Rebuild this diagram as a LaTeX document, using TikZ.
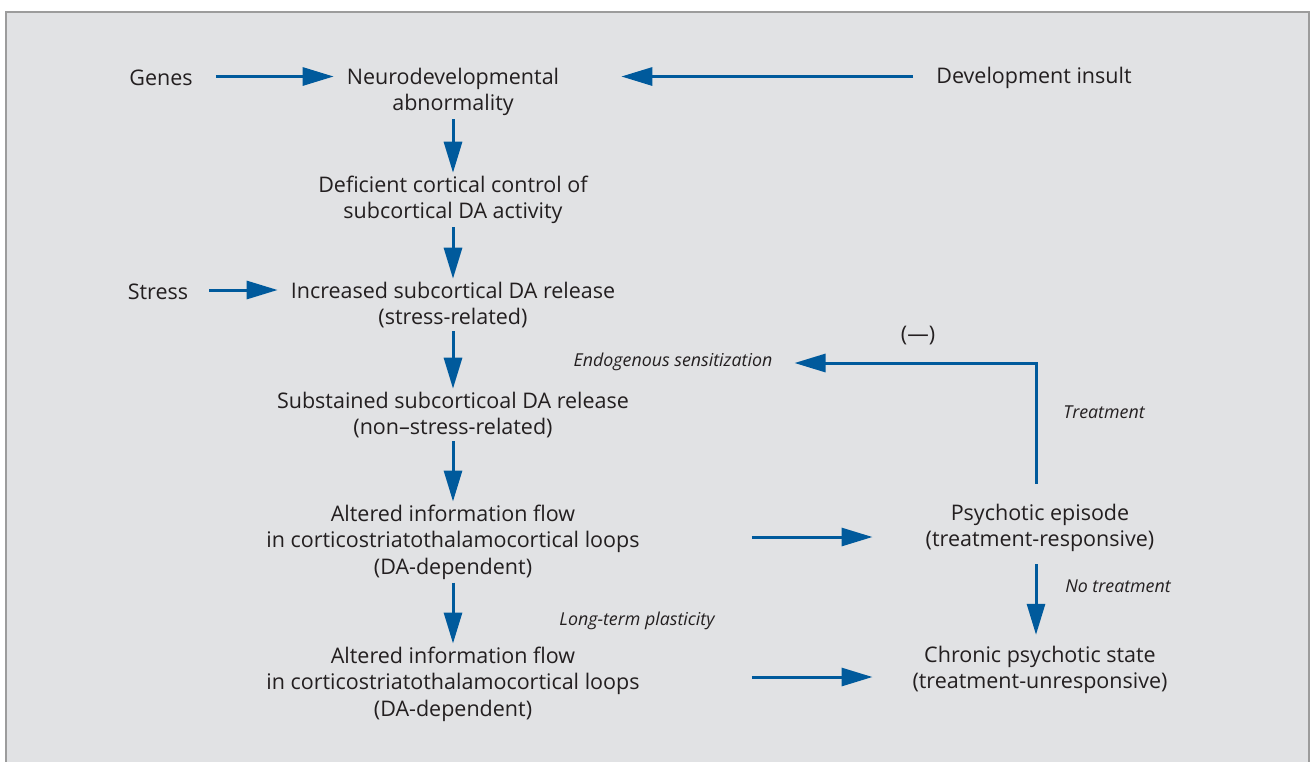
\documentclass[tikz,border=0pt]{standalone}
\usepackage{fontspec}
\setmainfont{Open Sans}
\usetikzlibrary{arrows.meta}
\definecolor{bgc}{HTML}{E1E2E4}
\definecolor{framec}{HTML}{9C9C9C}
\definecolor{arrc}{HTML}{005A9C}
\definecolor{txtc}{HTML}{231F20}
\tikzset{
  txt/.style={align=center, inner sep=3pt, text=txtc, font=\fontsize{21.5}{26.5}\selectfont},
  lbl/.style={inner sep=0pt, text=txtc, font=\fontsize{17.8}{20}\selectfont\itshape},
  arr/.style={draw=arrc, line width=3pt, -{Triangle[length=31pt,width=18pt]}},
}
\begin{document}
\begin{tikzpicture}[x=1pt,y=-1pt]
\useasboundingbox (0,0) rectangle (1313,761);
\clip (0,0) rectangle (1313,761);
\draw[fill=bgc, draw=framec, line width=2.5pt] (6,12) rectangle (1309,790);

\node[txt] (genes) at (161,78) {Genes};
\node[txt] (neuro) at (453,92) {Neurodevelopmental\\abnormality};
\node[txt] (insult) at (1034,78) {Development insult};
\node[txt] (defic) at (453,200) {Deficient cortical control of\\subcortical DA activity};
\node[txt] (stress) at (158,292) {Stress};
\node[txt] (incr) at (453,305) {Increased subcortical DA release\\(stress-related)};
\node[txt] (subst) at (453,415) {Substained subcorticoal DA release\\(non--stress-related)};
\node[txt] (alt1) at (453,542) {Altered information flow\\in corticostriatothalamocortical loops\\(DA-dependent)};
\node[txt] (psych) at (1040,528) {Psychotic episode\\(treatment-responsive)};
\node[txt] (alt2) at (453,684) {Altered information flow\\in corticostriatothalamocortical loops\\(DA-dependent)};
\node[txt] (chron) at (1040,670) {Chronic psychotic state\\(treatment-unresponsive)};

\node[lbl] (endo) at (673,362) {Endogenous sensitization};
\node[txt] (minus) at (918,336) {(---)};
\node[lbl] (treat) at (1104,412) {Treatment};
\node[lbl] (notreat) at (1118,586) {No treatment};
\node[lbl] (ltp) at (637,621) {Long-term plasticity};

\coordinate (fbtop) at (1036,363);

\draw[arr] ([xshift=20pt,yshift=1.5pt]genes.east) -- ([xshift=-10pt,yshift=1.5pt]genes.east -| neuro.west);
\draw[arr] ([xshift=-20pt,yshift=1.5pt]insult.west) -- ([xshift=59pt,yshift=1.5pt]insult.west -| neuro.east);
\draw[arr] (neuro) -- (defic);
\draw[arr] (defic) -- (incr);
\draw[arr] ([xshift=18pt,yshift=2pt]stress.east) -- ([xshift=-10pt,yshift=2pt]stress.east -| incr.west);
\draw[arr] (incr) -- (subst);
\draw[arr] (subst) -- (alt1);
\draw[arr] (alt1) -- (alt2);
\draw[arr] ([xshift=109pt,yshift=5pt]alt1.east) -- ([xshift=-50pt,yshift=5pt]alt1.east -| psych.west);
\draw[arr, shorten <=9pt, shorten >=8pt] (psych.south -| fbtop) -- (chron.north -| fbtop);
\draw[arr] ([yshift=17pt]psych.north -| fbtop) -- (fbtop) -- ([xshift=22pt]endo.east |- fbtop);
\draw[arr] ([xshift=109pt,yshift=7pt]alt2.east) -- ([xshift=-50pt,yshift=7pt]alt2.east -| psych.west);
\end{tikzpicture}
\end{document}
